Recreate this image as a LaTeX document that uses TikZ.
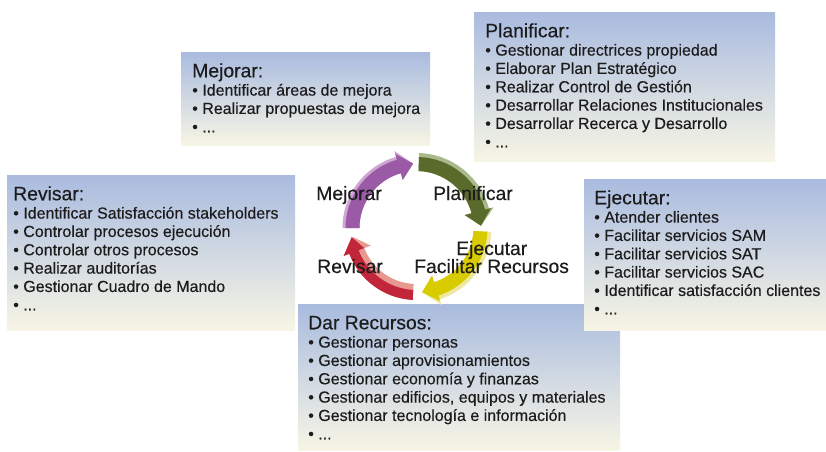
\documentclass[tikz,border=0pt]{standalone}
\usepackage{fontspec}
\setmainfont{Liberation Sans}[FakeBold=0.35]
\definecolor{boxtop}{HTML}{A9BBDF}
\definecolor{boxbot}{HTML}{F7F5E5}
\definecolor{txt}{HTML}{1C1C1C}
\definecolor{purp}{HTML}{9B5AA6}
\definecolor{purpl}{HTML}{CFA6D4}
\definecolor{grn}{HTML}{5A6A2A}
\definecolor{grnl}{HTML}{A9B98B}
\definecolor{yel}{HTML}{D8CB00}
\definecolor{yell}{HTML}{EEE7A0}
\definecolor{rd}{HTML}{C1263A}
\definecolor{rdl}{HTML}{E8988E}
% #1 colour, #2 start angle, #3 tip angle, #4 inner r, #5 outer r, #6 head inner r, #7 head outer r, #8 tip r
\newcommand\cycarrow[8]{%
  \pgfmathsetmacro\cychb{#3+13}%
  \fill[#1] (#2:#5) arc[start angle=#2, end angle=\cychb, radius=#5]
    -- (\cychb:#7) -- (#3:#8) -- (\cychb:#6) -- (\cychb:#4)
    arc[start angle=\cychb, end angle=#2, radius=#4] -- cycle;}
\tikzset{
  boxtext/.style={anchor=north west, inner sep=0pt, align=left, text=txt,
    font=\fontsize{12}{13.75}\selectfont},
  cyclabel/.style={anchor=base west, inner sep=0pt, text=txt,
    font=\fontsize{14.5}{16}\selectfont},
  boxfill/.style={top color=boxtop, bottom color=boxbot, draw=none}
}
\newcommand\boxhead[1]{\rule{0pt}{18.75pt}{\fontsize{14.5}{13.75}\selectfont #1}}
\begin{document}
\begin{tikzpicture}[x=0.75pt, y=-0.75pt]
\useasboundingbox (0,0) rectangle (826,451);
\fill[white] (0,0) rectangle (826,451);

% boxes
\shade[boxfill] (181,52) rectangle (430,145);
\shade[boxfill] (474,12) rectangle (775,161);
\shade[boxfill] (7,175) rectangle (295,330);
\shade[boxfill] (298,304) rectangle (620,450);
\shade[boxfill] (584,179) rectangle (826,330);

\node[boxtext] (mej) at (192,52) {\boxhead{Mejorar:}\\
  • Identificar áreas de mejora\\
  • Realizar propuestas de mejora\\
  • ...};
\node[boxtext] (pla) at (485,12) {\boxhead{Planificar:}\\
  • Gestionar directrices propiedad\\
  • Elaborar Plan Estratégico\\
  • Realizar Control de Gestión\\
  • Desarrollar Relaciones Institucionales\\
  • Desarrollar Recerca y Desarrollo\\
  • ...};
\node[boxtext] (rev) at (13,175) {\boxhead{Revisar:}\\
  • Identificar Satisfacción stakeholders\\
  • Controlar procesos ejecución\\
  • Controlar otros procesos\\
  • Realizar auditorías\\
  • Gestionar Cuadro de Mando\\
  • ...};
\node[boxtext] (dar) at (308,304) {\boxhead{Dar Recursos:}\\
  • Gestionar personas\\
  • Gestionar aprovisionamientos\\
  • Gestionar economía y finanzas\\
  • Gestionar edificios, equipos y materiales\\
  • Gestionar tecnología e información\\
  • ...};
\node[boxtext] (eje) at (594,179) {\boxhead{Ejecutar:}\\
  • Atender clientes\\
  • Facilitar servicios SAM\\
  • Facilitar servicios SAT\\
  • Facilitar servicios SAC\\
  • Identificar satisfacción clientes\\
  • ...};

% cycle
\begin{scope}[shift={(416.5,228)}, yscale=-1]
  % purple (Mejorar)
  \cycarrow{purpl}{180}{93}{57}{74}{50}{80}{64.5}
  \cycarrow{purp}{180}{93}{57}{71}{50}{77}{64.5}
  % green (Planificar)
  \cycarrow{grnl}{88}{2}{57}{75}{50}{80}{64.5}
  \cycarrow{grn}{88}{2}{57}{71}{50}{77}{64.5}
  % yellow (Ejecutar)
  \cycarrow{yell}{-3}{-85}{57}{75}{50}{81}{64.5}
  \cycarrow{yel}{-3}{-85}{57}{71}{50}{77}{64.5}
  % red (Revisar)
  \cycarrow{rdl}{-93}{-172}{56}{72}{49}{78}{64.5}
  \cycarrow{rd}{-93}{-172}{62}{72}{56}{78}{65.5}
\end{scope}

\node[cyclabel] (lmej) at (316,200) {Mejorar};
\node[cyclabel] (lpla) at (433,200) {Planificar};
\node[cyclabel] (leje) at (456,255) {Ejecutar};
\node[cyclabel] (lfac) at (414,273) {Facilitar Recursos};
\node[cyclabel] (lrev) at (317,273) {Revisar};
\end{tikzpicture}
\end{document}
